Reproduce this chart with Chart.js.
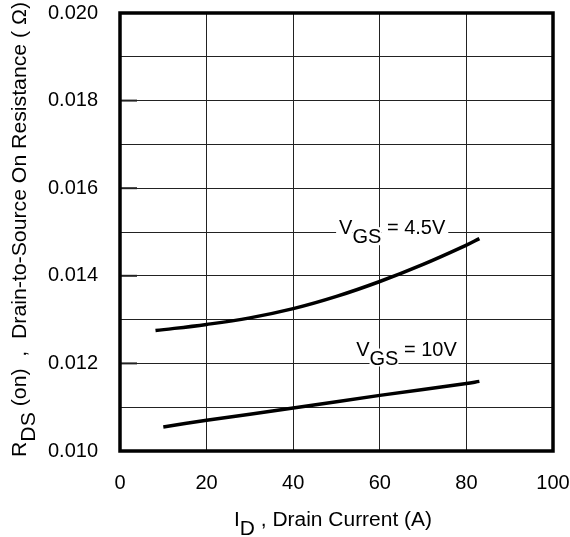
<!DOCTYPE html>
<html>
<head>
<meta charset="utf-8">
<script src="https://cdn.jsdelivr.net/npm/chart.js@4/dist/chart.umd.min.js"></script>
<style>
  html, body { margin: 0; padding: 0; background: #fff; }
  #wrap { width: 570px; height: 537px; position: relative; }
</style>
</head>
<body>
<div id="wrap"><canvas id="chart"></canvas></div>
<script>
// Drain current (A) and on-resistance (ohm)
const current45 = [8.2, 20, 30, 40, 50, 60, 70, 80, 83];
const rds45 = [0.01275, 0.01289, 0.01304, 0.01325, 0.01353, 0.01387, 0.01426, 0.01470, 0.01485];

const current10 = [10, 20, 40, 60, 80, 83];
const rds10 = [0.01055, 0.0107, 0.01098, 0.01127, 0.01154, 0.01159];

// axis ranges and tick steps
const xTicks = [0, 20, 40, 60, 80, 100];
const yTicks = [0.010, 0.012, 0.014, 0.016, 0.018, 0.020];

// curve labels: [subscript, rest, x, y] in data units (left edge / baseline)
const curveLabels = [
  ["GS", " = 4.5V", 50.6, 0.01495],
  ["GS", " = 10V", 54.55, 0.01218]
];

const FONT = "'Liberation Sans', Arial, Helvetica, sans-serif";

function toPoints(xs, ys) {
  return xs.map((x, i) => ({ x: x, y: ys[i] }));
}

// draws text made of pieces, some of them subscripts
function drawRich(ctx, pieces, x, y, angle, targetWidth) {
  ctx.save();
  ctx.font = "20px " + FONT;
  let natural = 0;
  for (const p of pieces) natural += ctx.measureText(p[0]).width;
  const sx = targetWidth ? targetWidth / natural : 1;
  ctx.translate(x, y);
  ctx.rotate(angle);
  ctx.scale(sx, 1);
  ctx.fillStyle = "#000";
  ctx.textBaseline = "alphabetic";
  ctx.textAlign = "left";
  let cx = 0;
  for (const p of pieces) {
    ctx.fillText(p[0], cx, p[1] ? 9 : 0);
    cx += ctx.measureText(p[0]).width;
  }
  ctx.restore();
}

const decorPlugin = {
  id: "decor",
  afterDatasetsDraw(chart) {
    const ctx = chart.ctx;
    const xs = chart.scales.x;
    const ys = chart.scales.y;
    const area = chart.chartArea;

    // short tick stubs on the inner left edge
    ctx.save();
    ctx.strokeStyle = "#222";
    ctx.lineWidth = 2;
    for (const v of yTicks.slice(1, -1)) {
      const py = ys.getPixelForValue(v);
      ctx.beginPath();
      ctx.moveTo(area.left, py);
      ctx.lineTo(area.left + 17, py);
      ctx.stroke();
    }
    ctx.restore();

    // curve labels with white backing
    ctx.save();
    ctx.font = "20px " + FONT;
    for (const lab of curveLabels) {
      const px = xs.getPixelForValue(lab[2]);
      const py = ys.getPixelForValue(lab[3]);
      const wV = ctx.measureText("V").width;
      const wSub = ctx.measureText(lab[0]).width;
      const wRest = ctx.measureText(lab[1]).width;
      ctx.fillStyle = "#fff";
      ctx.fillRect(px - 3, py - 16, wV + 3, 18);
      ctx.fillRect(px + wV, py - 7, wSub, 18);
      ctx.fillRect(px + wV + wSub, py - 16, wRest + 3, 18);
      ctx.fillStyle = "#000";
      ctx.textBaseline = "alphabetic";
      ctx.fillText("V", px, py);
      ctx.fillText(lab[0], px + wV, py + 9);
      ctx.fillText(lab[1], px + wV + wSub, py);
    }
    ctx.restore();
  },
  afterDraw(chart) {
    const ctx = chart.ctx;
    const area = chart.chartArea;
    ctx.save();
    ctx.strokeStyle = "#000";
    ctx.lineWidth = 3.5;
    ctx.strokeRect(area.left, area.top, area.right - area.left, area.bottom - area.top);
    ctx.restore();

    // axis titles
    drawRich(ctx, [["I", 0], ["D", 1], [" , Drain Current (A)", 0]], 234, 526, 0, 198);
    drawRich(ctx, [["R", 0], ["DS", 1], [" (on)  ,  Drain-to-Source On Resistance ( \u03A9)", 0]],
      26, 457, -Math.PI / 2, 455);
  }
};

new Chart(document.getElementById("chart").getContext("2d"), {
  type: "line",
  data: {
    datasets: [
      {
        label: "VGS = 4.5V",
        data: toPoints(current45, rds45),
        borderColor: "#000",
        borderWidth: 3.5,
        pointRadius: 0,
        tension: 0.4,
        fill: false
      },
      {
        label: "VGS = 10V",
        data: toPoints(current10, rds10),
        borderColor: "#000",
        borderWidth: 3.5,
        pointRadius: 0,
        tension: 0.4,
        fill: false
      }
    ]
  },
  options: {
    responsive: true,
    maintainAspectRatio: false,
    animation: false,
    events: [],
    layout: { padding: { top: 13, right: 17, left: 0, bottom: 0 } },
    plugins: {
      legend: { display: false },
      tooltip: { enabled: false }
    },
    scales: {
      x: {
        type: "linear",
        min: xTicks[0],
        max: xTicks[xTicks.length - 1],
        afterFit(scale) {
          scale.height = 86;
          scale.paddingLeft = 0;
          scale.paddingRight = 0;
        },
        afterBuildTicks(scale) { scale.ticks = xTicks.map(v => ({ value: v })); },
        border: { display: false },
        grid: { color: "#222", lineWidth: 1, drawTicks: false },
        ticks: {
          padding: 20,
          color: "#000",
          font: { family: FONT, size: 20 },
          callback: v => String(v)
        }
      },
      y: {
        type: "linear",
        min: 0.010,
        max: 0.020,
        afterFit(scale) {
          scale.width = 120;
          scale.paddingTop = 0;
          scale.paddingBottom = 0;
        },
        border: { display: false },
        grid: { color: "#222", lineWidth: 1, drawTicks: false },
        ticks: {
          stepSize: 0.001,
          padding: 22,
          color: "#000",
          font: { family: FONT, size: 20 },
          autoSkip: false,
          callback: v => (Math.round(v * 1000) % 2 === 0 ? v.toFixed(3) : "")
        }
      }
    }
  },
  plugins: [decorPlugin]
});
</script>
</body>
</html>
